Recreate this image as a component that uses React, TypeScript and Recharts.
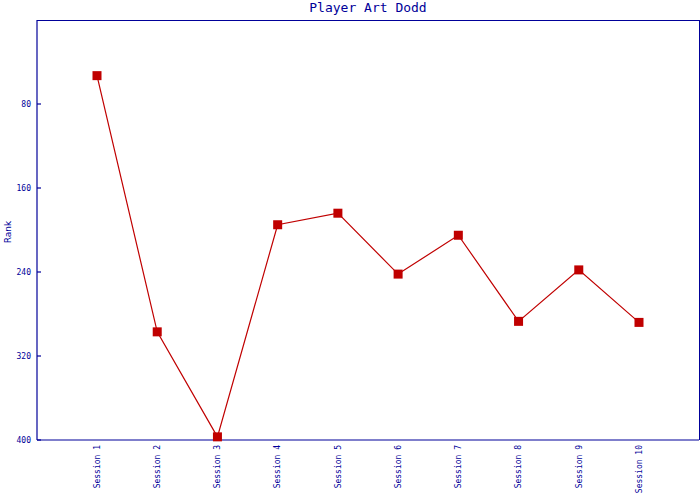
import React from 'react';
import { LineChart, Line, XAxis, YAxis } from 'recharts';

const sessions = ['Session 1', 'Session 2', 'Session 3', 'Session 4', 'Session 5', 'Session 6', 'Session 7', 'Session 8', 'Session 9', 'Session 10'];
const ranks = [53, 297, 397, 195, 184, 242, 205, 287, 238, 288];
const rankTicks = [80, 160, 240, 320, 400];

const NAVY = '#000099';
const RED = '#c00000';
const MONO = '"DejaVu Sans Mono", "Liberation Mono", monospace';

const data = sessions.map((s, i) => ({ session: s, rank: ranks[i] }));

// rotated session labels, top aligned just below the axis
const SessionTick = (props: any) => {
  const { x, y, payload } = props;
  return (
    <text
      x={x}
      y={y}
      dy="0.35em"
      transform={`rotate(-90, ${x}, ${y})`}
      textAnchor="end"
      fill={NAVY}
      fontSize={8}
      fontFamily={MONO}
    >
      {payload.value}
    </text>
  );
};

// rank labels with the tick mark pointing into the plot
const RankTick = (props: any) => {
  const { x, y, payload } = props;
  return (
    <g>
      <line x1={x + 6} y1={y} x2={x + 10} y2={y} stroke={NAVY} strokeWidth={1.2} />
      <text x={x} y={y} dy="0.35em" textAnchor="end" fill={NAVY} fontSize={8} fontFamily={MONO}>
        {payload.value}
      </text>
    </g>
  );
};

const SquareDot = (props: any) => {
  const { cx, cy, index } = props;
  if (cx == null || cy == null) return null;
  return <rect key={index} x={cx - 4.5} y={cy - 4.5} width={9} height={9} fill={RED} />;
};

export default function App() {
  return (
    <div style={{ position: 'absolute', left: 0, top: 0, width: 700, height: 500, background: '#fff' }}>
      <div
        style={{
          position: 'absolute', left: 37, width: 662, top: 0, textAlign: 'center',
          fontFamily: MONO, fontSize: 13, color: NAVY, lineHeight: '16px',
        }}
      >
        Player Art Dodd
      </div>
      <div
        style={{
          position: 'absolute', left: 8, top: 232, transform: 'translate(-50%, -50%) rotate(-90deg)',
          fontFamily: '"DejaVu Sans", sans-serif', fontSize: 9, color: NAVY, whiteSpace: 'nowrap',
        }}
      >
        Rank
      </div>
      {/* top and right edges of the plot frame */}
      <div style={{ position: 'absolute', left: 37, top: 19.5, width: 662, height: 0, borderTop: `1.2px solid ${NAVY}` }} />
      <div style={{ position: 'absolute', left: 698.5, top: 20, width: 0, height: 420, borderLeft: `1.2px solid ${NAVY}` }} />
      <LineChart width={700} height={500} data={data} margin={{ top: 20, right: 1, bottom: 0, left: 0 }}>
        <XAxis
          dataKey="session"
          height={60}
          padding={{ left: 60, right: 60 }}
          axisLine={{ stroke: NAVY, strokeWidth: 1.2 }}
          tickLine={false}
          tickSize={0}
          tickMargin={5}
          interval={0}
          tick={<SessionTick />}
        />
        <YAxis
          domain={[0, 400]}
          reversed
          ticks={rankTicks}
          width={37}
          axisLine={{ stroke: NAVY, strokeWidth: 1.2 }}
          tickLine={false}
          tickSize={0}
          tickMargin={6}
          interval={0}
          tick={<RankTick />}
        />
        <Line
          type="linear"
          dataKey="rank"
          stroke={RED}
          strokeWidth={1.2}
          dot={<SquareDot />}
          activeDot={false}
          isAnimationActive={false}
        />
      </LineChart>
    </div>
  );
}
